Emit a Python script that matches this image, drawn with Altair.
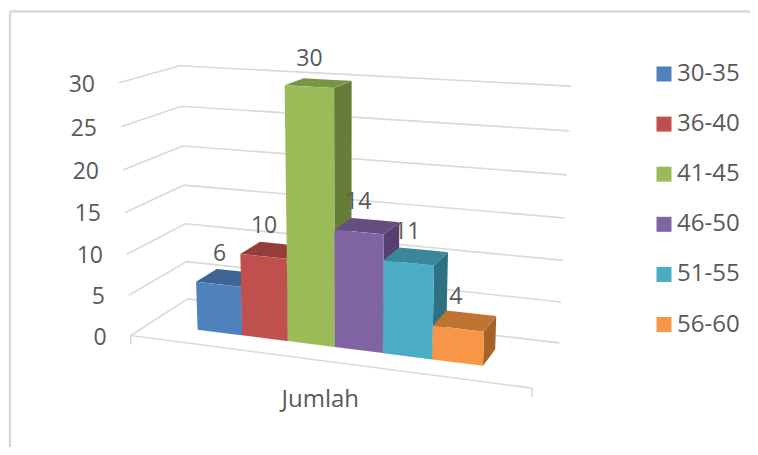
import altair as alt
import numpy as np

# ---- chart values ----
SERIES = ["30-35", "36-40", "41-45", "46-50", "51-55", "56-60"]
VALUES = [6, 10, 30, 14, 11, 4]
TICKS = [0, 5, 10, 15, 20, 25, 30]
CATEGORY = "Jumlah"

FRONT = ["#4F81BD", "#C0504D", "#9BBB59", "#8064A2", "#4BACC6", "#F79646"]
TOP = ["#3C6494", "#963D3B", "#7A9446", "#644E80", "#3A869B", "#BF7431"]
SIDE = ["#2F4E74", "#75302E", "#667D3A", "#543F6E", "#2F7082", "#A5632A"]
GRID = "#D9D9D9"
INK = "#595959"
FONT = "Open Sans"

# ---- camera: box coordinates (across, value, depth) seen on the page ----
CAMERA = [
    ((0, 0, 0), (131, 336)), ((1, 0, 0), (532, 388)),
    ((0, 0, 1), (188, 299)), ((1, 0, 1), (559, 343)),
    ((0, 30, 1), (180, 66)), ((1, 30, 1), (571, 86)),
    ((0, 30, 0), (119, 83)), ((0, 15, 1), (184, 185)),
    ((1, 15, 1), (565, 218)), ((0, 15, 0), (125, 212)),
    ((0, 5, 0), (128.5, 295)), ((1, 5, 1), (561, 302)),
    ((0, 25, 1), (181, 106)), ((1, 25, 1), (569, 131)),
]
A, B = [], []
for (u, v, d), (px, py) in CAMERA:
    w = v / 30
    A.append([u, w, d, 1, 0, 0, 0, 0, -px * u, -px * w, -px * d]); B.append(px)
    A.append([0, 0, 0, 0, u, w, d, 1, -py * u, -py * w, -py * d]); B.append(py)
M = np.linalg.lstsq(np.array(A, float), np.array(B, float), rcond=None)[0]


def P(u, v, d):
    w = v / 30
    h = M[8] * u + M[9] * w + M[10] * d + 1
    return (float((M[0] * u + M[1] * w + M[2] * d + M[3]) / h),
            float((M[4] * u + M[5] * w + M[6] * d + M[7]) / h))


U0, U1 = 0.135, 0.865
D0, D1 = 0.31, 0.69
WIDTH, HEIGHT = 742, 439
X = alt.Scale(domain=[8, 8 + WIDTH], nice=False, zero=False)
Y = alt.Scale(domain=[8 + HEIGHT, 8], nice=False, zero=False)


def band(poly):
    rows = []
    for x in sorted(p[0] for p in poly):
        ys = []
        for a, b in zip(poly, poly[1:] + poly[:1]):
            if min(a[0], b[0]) <= x <= max(a[0], b[0]):
                if a[0] == b[0]:
                    ys += [a[1], b[1]]
                else:
                    ys.append(a[1] + (x - a[0]) * (b[1] - a[1]) / (b[0] - a[0]))
        rows.append({"x": x, "y": min(ys), "y2": max(ys)})
    return rows


def xy(**extra):
    return dict(x=alt.X("x:Q", scale=X, axis=None), y=alt.Y("y:Q", scale=Y, axis=None), **extra)


layers = []

# frame
layers.append(alt.Chart(alt.Data(values=[{"x": 10, "y": 11.5, "y2": 8 + HEIGHT}])).mark_rule(color=GRID, strokeWidth=2.4)
              .encode(**xy(y2="y2:Q")))
layers.append(alt.Chart(alt.Data(values=[{"x": 10, "x2": 8 + WIDTH, "y": 11.5}])).mark_rule(color=GRID, strokeWidth=2.4)
              .encode(**xy(x2="x2:Q")))

# gridlines on the walls
grid_rows = []
for t in TICKS:
    for u, d in [(0, 0), (0, 1), (1, 1)]:
        x, y = P(u, t, d)
        grid_rows.append({"x": x, "y": y, "t": t})
layers.append(alt.Chart(alt.Data(values=grid_rows)).mark_line(color=GRID, strokeWidth=1.6)
              .encode(**xy(detail="t:N")))

# floor front edge and its end ticks
edge = [dict(zip("xy", P(u, 0, 0))) for u in (0, 1)]
layers.append(alt.Chart(alt.Data(values=edge)).mark_line(color=GRID, strokeWidth=1.6).encode(**xy()))
ticks = [{"x": e["x"], "y": e["y"], "y2": e["y"] + 9} for e in edge]
layers.append(alt.Chart(alt.Data(values=ticks)).mark_rule(color=GRID, strokeWidth=1.6).encode(**xy(y2="y2:Q")))

# bars
step = (U1 - U0) / len(VALUES)
label_rows = []
for i, (name, val) in enumerate(zip(SERIES, VALUES)):
    a, b = U0 + i * step, U0 + (i + 1) * step
    top = [P(a, val, D0), P(b, val, D0), P(b, val, D1), P(a, val, D1)]
    side = [P(b, 0, D0), P(b, val, D0), P(b, val, D1), P(b, 0, D1)]
    front = [P(a, 0, D0), P(b, 0, D0), P(b, val, D0), P(a, val, D0)]
    layers.append(alt.Chart(alt.Data(values=band(side))).mark_area(color=SIDE[i]).encode(**xy(y2="y2:Q")))
    layers.append(alt.Chart(alt.Data(values=band(top))).mark_area(color=TOP[i]).encode(**xy(y2="y2:Q")))
    rows = [dict(r, series=name) for r in band(front)]
    layers.append(alt.Chart(alt.Data(values=rows)).mark_area().encode(**xy(
        y2="y2:Q",
        color=alt.Color("series:N", scale=alt.Scale(domain=SERIES, range=FRONT), legend=alt.Legend(
            title=None, orient="none", legendX=644, legendY=54, padding=0,
            symbolType="square", symbolSize=225, symbolStrokeWidth=0, symbolOpacity=1,
            labelFont=FONT, labelFontSize=24, labelColor=INK, labelOffset=1,
            rowPadding=26.1)))))
    x, y = P((a + b) / 2, val, (D0 + D1) / 2)
    label_rows.append({"x": x, "y": y, "text": str(val)})

layers.append(alt.Chart(alt.Data(values=label_rows)).mark_text(
    font=FONT, fontSize=23, color=INK, dx=-9, dy=-24).encode(**xy(text="text:N")))

tick_rows = []
for t in TICKS:
    x, y = P(0, t, 0)
    tick_rows.append({"x": x, "y": y, "text": str(t)})
layers.append(alt.Chart(alt.Data(values=tick_rows)).mark_text(
    font=FONT, fontSize=23, color=INK, align="right", dx=-24, dy=2).encode(**xy(text="text:N")))

cx, cy = P(0.5, 0, 0)
layers.append(alt.Chart(alt.Data(values=[{"x": cx, "y": cy, "text": CATEGORY}])).mark_text(
    font=FONT, fontSize=24, color=INK, dx=0, dy=40).encode(**xy(text="text:N")))

chart = alt.layer(*layers).properties(
    width=WIDTH, height=HEIGHT, padding=0, autosize=alt.AutoSizeParams(type="none"),
    background="white",
).configure_view(stroke=None)

chart.save("out.html", embed_options={"renderer": "svg", "actions": False})
